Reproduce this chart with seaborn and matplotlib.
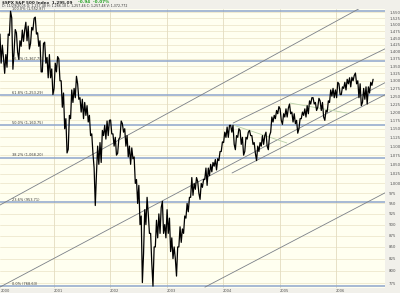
import numpy as np
import pandas as pd
import matplotlib
matplotlib.use("Agg")
import matplotlib.pyplot as plt
from matplotlib.ticker import FixedLocator, FixedFormatter, NullLocator
import seaborn as sns

# ---------------- data (half-month low / high of S&P 500, Jan 2000 .. Aug 2006) -------------
lows_2000 = [1397, 1360, 1380, 1325, 1346, 1460, 1339, 1400, 1400, 1373, 1420, 1438,
             1440, 1410, 1430, 1480, 1465, 1420, 1330, 1330, 1360, 1310, 1310, 1255]
highs_2000 = [1478, 1465, 1424, 1390, 1465, 1553, 1527, 1482, 1470, 1440, 1480, 1480,
              1510, 1495, 1490, 1525, 1530, 1470, 1440, 1430, 1435, 1380, 1390, 1340]
lows_2001 = [1275, 1330, 1300, 1215, 1150, 1081, 1091, 1180, 1230, 1245, 1240, 1200,
             1180, 1190, 1170, 1130, 1080, 945, 1025, 1050, 1055, 1130, 1120, 1130]
highs_2001 = [1360, 1383, 1375, 1300, 1260, 1180, 1190, 1270, 1275, 1315, 1290, 1245,
              1240, 1230, 1220, 1190, 1135, 1040, 1100, 1110, 1145, 1160, 1173, 1175]
lows_2002 = [1135, 1100, 1075, 1080, 1125, 1140, 1100, 1070, 1050, 1065, 1000, 950,
             900, 776, 835, 900, 880, 815, 769, 850, 870, 880, 880, 870]
highs_2002 = [1176, 1135, 1125, 1120, 1173, 1165, 1150, 1130, 1100, 1095, 1070, 1010,
              995, 920, 935, 965, 925, 880, 850, 910, 925, 940, 955, 900]
lows_2003 = [880, 840, 825, 825, 789, 850, 860, 880, 915, 930, 965, 970,
             985, 975, 960, 990, 1010, 995, 1020, 1030, 1045, 1035, 1060, 1085]
highs_2003 = [935, 915, 870, 850, 850, 895, 890, 920, 950, 965, 1015, 1000,
              1015, 1005, 1000, 1010, 1040, 1040, 1050, 1055, 1063, 1065, 1085, 1112]
lows_2004 = [1110, 1125, 1125, 1140, 1105, 1090, 1125, 1105, 1075, 1085, 1120, 1130,
             1105, 1080, 1060, 1085, 1100, 1105, 1100, 1090, 1140, 1170, 1180, 1195]
highs_2004 = [1140, 1155, 1160, 1160, 1160, 1130, 1150, 1145, 1125, 1125, 1140, 1145,
              1130, 1110, 1100, 1110, 1130, 1130, 1140, 1130, 1185, 1190, 1205, 1217]
lows_2005 = [1175, 1163, 1185, 1185, 1195, 1170, 1165, 1137, 1150, 1180, 1190, 1185,
             1195, 1225, 1225, 1205, 1215, 1205, 1185, 1175, 1200, 1230, 1250, 1245]
highs_2005 = [1210, 1195, 1210, 1212, 1225, 1200, 1195, 1175, 1180, 1200, 1210, 1220,
              1235, 1245, 1245, 1230, 1243, 1235, 1230, 1205, 1235, 1270, 1275, 1270]
lows_2006 = [1245, 1255, 1255, 1275, 1270, 1290, 1280, 1300, 1290, 1245, 1220, 1230,
             1240, 1225, 1260, 1285]
highs_2006 = [1295, 1290, 1280, 1295, 1305, 1310, 1312, 1318, 1326, 1300, 1290, 1275,
              1280, 1280, 1295, 1305]

# Fibonacci retracement levels
fib_pcts = ["100.0%", "76.4%", "61.8%", "50.0%", "38.2%", "23.6%", "0.0%"]
fib_levels = [1552.87, 1367.78, 1253.29, 1160.75, 1068.20, 953.71, 768.63]

# trend / channel lines: (start year, start price, end year, end price)
channel_lines = [
    (2000.05, 946, 2006.43, 1566),
    (2000.05, 767, 2006.96, 1303),
    (2004.18, 1167, 2006.96, 1420),
    (2004.16, 1027, 2006.96, 1263),
    (2003.68, 767, 2006.96, 983),
]
median_lines = [
    (2004.18, 1161, 2005.13, 1109),
    (2005.19, 1228, 2006.20, 1197),
]

y_ticks = list(range(775, 1551, 25))
year_ticks = [2000, 2001, 2002, 2003, 2004, 2005, 2006]

title_main = "$SPX S&P 500 Index  1,295.09"
title_chg = "-0.94  -0.07%"
title_sub = "D: 11/29/2005 O: 1,257.48 H: 1,266.18 L: 1,257.46 C: 1,257.48 V: 1,372,772"

# ---------------- build series ----------------
lows = lows_2000 + lows_2001 + lows_2002 + lows_2003 + lows_2004 + lows_2005 + lows_2006
highs = highs_2000 + highs_2001 + highs_2002 + highs_2003 + highs_2004 + highs_2005 + highs_2006
n = len(lows)
mid = [(l + h) / 2 for l, h in zip(lows, highs)]
tx, ty = [], []
for i in range(n):
    t = 2000 + (i + 0.5) / 24
    nxt = mid[i + 1] if i + 1 < n else mid[i]
    prv = mid[i - 1] if i > 0 else mid[i]
    rising = nxt >= prv
    a, b = (lows[i], highs[i]) if rising else (highs[i], lows[i])
    tx += [t - 1 / 96, t + 1 / 96]
    ty += [a, b]
df = pd.DataFrame({"t": tx, "p": ty})

# ---------------- figure ----------------
sns.set_style("white")
plt.rcParams["font.family"] = ["DejaVu Sans"]
W, H = 400, 293
fig = plt.figure(figsize=(W / 100, H / 100), dpi=100)
fig.patch.set_facecolor("#F1F0EA")
ax = fig.add_axes([0, 5 / H, 385 / W, 279 / H])
ax.set_facecolor("#FFFFF0")
ax.set_yscale("log")
x0 = 2000.053
x1 = x0 + 385 / 56.5
ax.set_xlim(x0, x1)
ax.set_ylim(765.3, 1562)

# grid
for v in y_ticks:
    ax.axhline(v, color="#EAE3C6", lw=0.5, zorder=0)
for yv in year_ticks[1:]:
    ax.axvline(yv, color="#E3DCC0", lw=0.6, zorder=0)

# fib lines
for pct, lev in zip(fib_pcts, fib_levels):
    ax.axhline(lev, color="#8EA6CC", lw=1.1, zorder=1)
    ax.text(x0 + 12 / 56.5, lev * 1.001, f"{pct} ({lev:,.2f})", fontsize=2.5,
            color="#333333", va="bottom", ha="left", zorder=4, clip_on=False)

# channel lines
for (ta, pa, tb, pb) in channel_lines:
    ax.plot([ta, tb], [pa, pb], color="#7B8088", lw=0.6, zorder=2)
for (ta, pa, tb, pb) in median_lines:
    ax.plot([ta, tb], [pa, pb], color="#B8D0A8", lw=0.6, zorder=2)

# price
sns.lineplot(data=df, x="t", y="p", sort=False, estimator=None, color="black",
             lw=0.9, ax=ax, zorder=3)

ax.set_xlabel("")
ax.set_ylabel("")
ax.yaxis.set_major_locator(FixedLocator(y_ticks))
ax.yaxis.set_minor_locator(NullLocator())
ax.yaxis.set_major_formatter(FixedFormatter([f"{v:,}" for v in y_ticks]))
ax.yaxis.tick_right()
ax.tick_params(axis="y", which="both", labelsize=2.8, length=0, pad=3,
               labelcolor="#555555")
xt = [x0 + 0.01] + year_ticks[1:]
ax.xaxis.set_major_locator(FixedLocator(xt))
ax.xaxis.set_major_formatter(FixedFormatter([str(y) for y in year_ticks]))
ax.tick_params(axis="x", labelsize=2.6, length=0, pad=1, labelcolor="#555555")
for lab in ax.get_xticklabels():
    lab.set_ha("left")
for s in ax.spines.values():
    s.set_visible(False)

# header
fig.text(2 / W, 1 - 2.4 / H, title_main, fontsize=3.0, fontweight="bold",
         color="#222222", va="center", ha="left")
fig.text(78 / W, 1 - 2.4 / H, title_chg, fontsize=3.0, fontweight="bold",
         color="#22A022", va="center", ha="left")
fig.text(2 / W, 1 - 6.2 / H, title_sub, fontsize=2.3, color="#333333",
         va="center", ha="left")

fig.savefig("out.png", dpi=100, facecolor=fig.get_facecolor())
